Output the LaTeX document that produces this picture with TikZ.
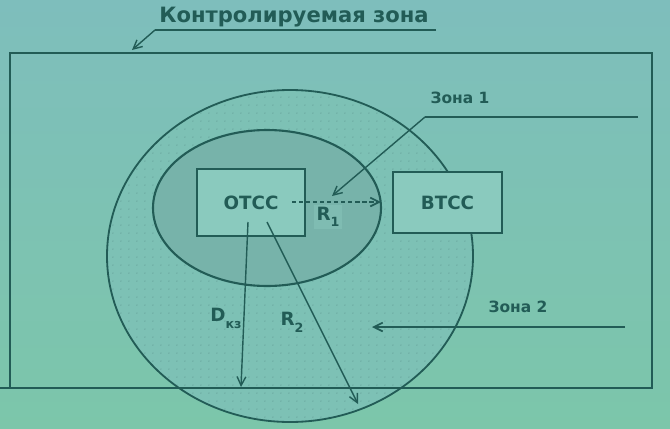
\documentclass[tikz,border=0pt]{standalone}
\usepackage{fontspec}
\setmainfont{DejaVu Sans}
\usepackage{xcolor}
\usetikzlibrary{arrows.meta,positioning,patterns}

\definecolor{bgtop}{RGB}{126,190,188}
\definecolor{bgbot}{RGB}{124,198,170}
\definecolor{zoneone}{RGB}{119,179,170}
\definecolor{boxfill}{RGB}{138,202,190}
\definecolor{inkteal}{RGB}{34,92,86}
\definecolor{dotteal}{RGB}{104,164,156}

\pgfdeclarepatternformonly{sparsedots}{\pgfpointorigin}{\pgfpoint{6pt}{6pt}}%
  {\pgfpoint{6pt}{6pt}}%
  {\pgfpathcircle{\pgfpoint{3pt}{3pt}}{0.55pt}\pgfusepath{fill}}

\tikzset{
  tsbox/.style={draw=inkteal, line width=1.8pt, fill=boxfill,
    font=\bfseries\fontsize{13}{15}\selectfont, text=inkteal},
  zonelabel/.style={font=\bfseries\fontsize{11}{13}\selectfont, text=inkteal},
  dimlabel/.style={font=\bfseries\fontsize{13}{15}\selectfont, text=inkteal},
  leader/.style={draw=inkteal, line width=1pt},
  tip/.style={-{Straight Barb[length=2.2mm,width=2.2mm]}}
}

\begin{document}
\begin{tikzpicture}[x=0.025cm, y=-0.025cm]
  \useasboundingbox (0,0) rectangle (670,428);

  % Background of the slide
  \shade[top color=bgtop, bottom color=bgbot] (0,0) rectangle (670,428);

  % Zone 2 (outer) and zone 1 (inner)
  \fill[bgtop!60!bgbot] (290,256) ellipse [x radius=183, y radius=166];
  \fill[pattern=sparsedots, pattern color=dotteal]
    (290,256) ellipse [x radius=183, y radius=166];
  \draw[inkteal, line width=1.3pt] (290,256) ellipse [x radius=183, y radius=166];
  \fill[zoneone] (267,208) ellipse [x radius=114, y radius=78];
  \draw[inkteal, line width=1.5pt] (267,208) ellipse [x radius=114, y radius=78];

  % Controlled zone frame
  \draw[inkteal, line width=1.4pt] (10,53) rectangle (652,388);
  \draw[inkteal, line width=1.4pt] (0,388) -- (10,388);

  % Title with leader
  \node[font=\bfseries\fontsize{15}{17}\selectfont, text=inkteal]
    (title) at (294,17) {Контролируемая зона};
  \coordinate (tline) at (155,30);
  \coordinate (tend) at (436,30);
  \coordinate (ttip) at (132,50);
  \draw[leader, line width=1.4pt] (tend) -- (tline);
  \draw[leader, tip] (tline) -- (ttip);

  % Technical means
  \node[tsbox, minimum width=2.7cm, minimum height=1.675cm]
    (otss) at (251,202.5) {ОТСС};
  \node[tsbox, minimum width=2.725cm, minimum height=1.525cm]
    (vtss) at (447.5,202.5) {ВТСС};

  % Radius R1
  \coordinate (r1s) at (292,202);
  \coordinate (r1e) at (381,202);
  \draw[leader, densely dashed, line width=1.2pt, tip] (r1s) -- (r1e);
  \node[dimlabel, fill=zoneone!60!boxfill, inner sep=2pt]
    (rone) at (328,217) {R\raisebox{-0.55ex}{\small 1}};

  % Distance D_kz and radius R2
  \coordinate (ds) at (248,222);
  \coordinate (de) at (241,387);
  \draw[leader, tip] (ds) -- (de);
  \node[dimlabel] (dkz) at (226,318) {D\raisebox{-0.7ex}{\small кз}};
  \coordinate (r2s) at (267,222);
  \coordinate (r2e) at (358,404);
  \draw[leader, tip] (r2s) -- (r2e);
  \node[dimlabel] (rtwo) at (292,322) {R\raisebox{-0.7ex}{\small 2}};

  % Zone labels with leaders
  \node[zonelabel] (zone1) at (460,98) {Зона 1};
  \coordinate (z1a) at (638,117);
  \coordinate (z1b) at (425,117);
  \coordinate (z1tip) at (332,196);
  \draw[leader, line width=1.2pt] (z1a) -- (z1b);
  \draw[leader, tip] (z1b) -- (z1tip);
  \node[zonelabel] (zone2) at (518,307) {Зона 2};
  \coordinate (z2a) at (625,327);
  \coordinate (z2tip) at (372,327);
  \draw[leader, line width=1.2pt, tip] (z2a) -- (z2tip);
\end{tikzpicture}
\end{document}
